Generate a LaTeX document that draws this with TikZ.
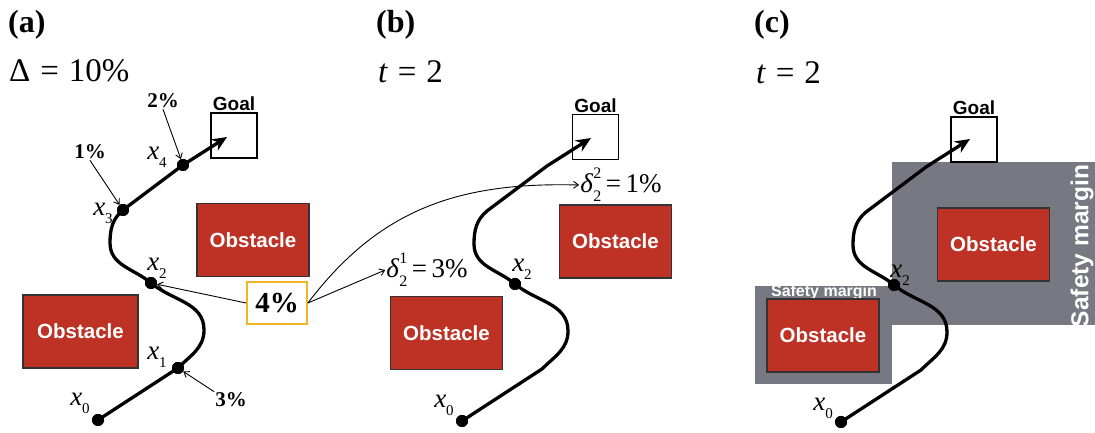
\documentclass[tikz,border=0pt]{standalone}
\usepackage{fontspec}
\setmainfont{Liberation Serif}
\newfontfamily\arialf{Liberation Sans}
\usetikzlibrary{arrows.meta}
\definecolor{obsred}{RGB}{190,50,38}
\definecolor{margingray}{RGB}{120,120,130}
\definecolor{orng}{RGB}{245,180,35}
\newcommand\xs[1]{\textit{x}\raisebox{-0.3em}{\fontsize{15}{15}\selectfont #1}}
\newcommand\dl[2]{\textit{δ}\rlap{\raisebox{0.5em}{\fontsize{16}{16}\selectfont #2}}\raisebox{-0.35em}{\fontsize{16}{16}\selectfont #1}}
\newcommand\eqsp{\hspace{0.3em}}
\begin{document}
\begin{tikzpicture}[x=1pt,y=1pt,
 obst/.style={draw=black!80, line width=1.6pt, fill=obsred, minimum width=112pt, minimum height=73pt, inner sep=0pt, text=white, font=\arialf\bfseries\fontsize{20.5}{20.5}\selectfont},
 goalbox/.style={draw, fill=white, line width=1.3pt, minimum width=46pt, minimum height=45pt, inner sep=0pt},
 goallbl/.style={font=\arialf\bfseries\fontsize{19}{19}\selectfont, anchor=south, inner sep=1pt},
 dot/.style={circle, fill=black, minimum size=12pt, inner sep=0pt},
 traj/.style={line width=3.3pt, -{Stealth[length=15pt,width=13pt,inset=5pt]}},
 thinarr/.style={line width=0.9pt, -{Straight Barb[length=5pt,width=7pt]}},
 xlbl/.style={font=\fontsize{27}{27}\selectfont, inner sep=0pt},
 pct/.style={font=\bfseries\fontsize{21}{21}\selectfont, inner sep=1pt},
 head/.style={font=\bfseries\fontsize{32}{32}\selectfont, anchor=west, inner sep=0pt},
 eqn/.style={font=\fontsize{33}{33}\selectfont, anchor=west, inner sep=0pt},
 dlbl/.style={font=\fontsize{27}{27}\selectfont, inner sep=1pt},
 smtext/.style={text=white, font=\arialf\bfseries, inner sep=0pt}
]
\useasboundingbox (0,0) rectangle (1095,433);

% ---------- headings ----------
\node[head] (ha) at (8,408) {(a)};
\node[eqn] (ea) at (9,362) {Δ\eqsp=\eqsp10\%};
\node[head] (hb) at (376,408) {(b)};
\node[eqn] (eb) at (378,361) {\textit{t}\eqsp=\eqsp2};
\node[head] (hc) at (754,408) {(c)};
\node[eqn] (ec) at (756,360) {\textit{t}\eqsp=\eqsp2};

% ---------- panel (c) safety margins ----------
\fill[margingray] (755,49) rectangle (892,147);
\fill[margingray] (892,108) rectangle (1095,271);
\node[smtext, font=\arialf\bfseries\fontsize{16}{16}\selectfont] (sm1) at (824,141) {Safety margin};
\node[smtext, rotate=90, font=\arialf\bfseries\fontsize{24.5}{24.5}\selectfont] (sm2) at (1082,187) {Safety margin};

% ---------- obstacles ----------
\node[obst] (oa1) at (253,193) {Obstacle};
\node[obst, minimum width=115pt] (oa2) at (80.5,101.5) {Obstacle};
\node[obst] (ob1) at (615.5,191.5) {Obstacle};
\node[obst] (ob2) at (446.5,100) {Obstacle};
\node[obst] (oc1) at (993.5,188.5) {Obstacle};
\node[obst] (oc2) at (823,97.5) {Obstacle};

% ---------- goals ----------
\node[goalbox] (ga) at (234,297.5) {};
\node[goallbl] (gla) at (ga.north) {Goal};
\node[goalbox] (gb) at (595.5,296) {};
\node[goallbl] (glb) at (gb.north) {Goal};
\node[goalbox] (gc) at (974,293.5) {};
\node[goallbl] (glc) at (gc.north) {Goal};

% ---------- panel (a) trajectory ----------
\node[dot] (a0) at (98,13) {};
\node[dot] (a1) at (178,65) {};
\node[dot] (a2) at (151,150) {};
\node[dot] (a3) at (123,223) {};
\node[dot] (a4) at (183,268) {};
\coordinate (abr) at (204,103);
\coordinate (abl) at (110,190);
\coordinate (atip) at (227,296);
\draw[traj] (a0.center) -- (a1.center) to[out=45,in=-90] (abr) to[out=90,in=-40] (a2.center)
  to[out=140,in=-90] (abl) to[out=90,in=-140] (a3.center) -- (a4.center) -- (atip);
\node[dot] at (a0) {};\node[dot] at (a1) {};\node[dot] at (a2) {};\node[dot] at (a3) {};\node[dot] at (a4) {};
\node[xlbl] (la0) at (80,30) {\xs{0}};
\node[xlbl] (la1) at (157,76) {\xs{1}};
\node[xlbl] (la2) at (157,165) {\xs{2}};
\node[xlbl] (la3) at (103,220) {\xs{3}};
\node[xlbl] (la4) at (157,276) {\xs{4}};

\node[pct] (p1) at (90,281) {1\%};
\node[pct] (p2) at (163,332) {2\%};
\node[pct] (p3) at (231,33) {3\%};
\draw[thinarr] (p1.south) -- (a3);
\draw[thinarr] (p2.south) -- (a4);
\draw[thinarr] (p3.north west) -- (a1);

\node[draw=orng, line width=1.8pt, minimum width=60pt, minimum height=42pt, inner sep=0pt,
      font=\bfseries\fontsize{29}{29}\selectfont] (four) at (277,130) {4\%};
\draw[thinarr] (four.west) -- (a2);

% ---------- panel (b) trajectory ----------
\begin{scope}[shift={(364,-1)}]
\node[dot] (b0) at (98,13) {};
\coordinate (b1) at (178,65);
\node[dot] (b2) at (151,150) {};
\coordinate (b3) at (123,223);
\coordinate (b4) at (183,268);
\coordinate (bbr) at (204,103);
\coordinate (bbl) at (110,190);
\coordinate (btip) at (227,296);
\end{scope}
\draw[traj] (b0.center) -- (b1) to[out=45,in=-90] (bbr) to[out=90,in=-40] (b2.center)
  to[out=140,in=-90] (bbl) to[out=90,in=-140] (b3) -- (b4) -- (btip);
\node[dot] at (b0) {};\node[dot] at (b2) {};
\node[xlbl] (lb0) at (444,28) {\xs{0}};
\node[xlbl] (lb2) at (522,164) {\xs{2}};

\node[dlbl] (d1) at (427,163) {\dl{2}{1}\,=\,3\%};
\node[dlbl] (d2) at (621,248) {\dl{2}{2}\,=\,1\%};
\draw[thinarr] (four.east) -- (d1.west);
\draw[thinarr] (four.east) .. controls (380,225) and (460,251) .. (d2.west);

% ---------- panel (c) trajectory ----------
\begin{scope}[shift={(743,-2)}]
\node[dot] (c0) at (98,13) {};
\coordinate (c1) at (178,65);
\node[dot] (c2) at (151,150) {};
\coordinate (c3) at (123,223);
\coordinate (c4) at (183,268);
\coordinate (cbr) at (204,103);
\coordinate (cbl) at (110,190);
\coordinate (ctip) at (227,296);
\end{scope}
\draw[traj] (c0.center) -- (c1) to[out=45,in=-90] (cbr) to[out=90,in=-40] (c2.center)
  to[out=140,in=-90] (cbl) to[out=90,in=-140] (c3) -- (c4) -- (ctip);
\node[dot] at (c0) {};\node[dot] at (c2) {};
\node[xlbl] (lc0) at (823,25) {\xs{0}};
\node[xlbl] (lc2) at (900,158) {\xs{2}};
\end{tikzpicture}
\end{document}
